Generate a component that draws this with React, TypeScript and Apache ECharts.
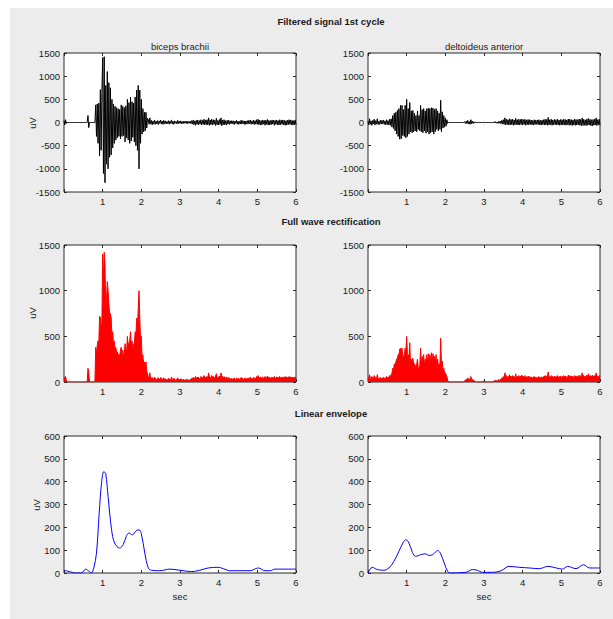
import React, { useEffect, useRef } from "react";
import * as echarts from "echarts";

// sample interval of the recorded EMG (s)
const DT = 0.02;

// Filtered signal, biceps brachii (uV), one sample every DT from t = 0
const bicepsFiltered = [
  40, -55, 60, -20, 0,
  0, 0, 0, 0, 0, 0, 0, 0, 0, 0, 0, 0, 0, 0, 0, 0, 0, 0, 0, 0, 0, 0, 0, 0, 0, 0,
  150, -110,
  0, 0, 0, 0, 0, 0, 0, 0,
  380, -300, 400, -450, 420, -720, 710, -600, 650, 1400, -1100, 1420, -1300, 800, -900, 1100, -1000, 860, -750, 750,
  -700, 500, -550, 400, -450, 350, -380, 320, -330, 300, -300, 280, -350, 380, -300, 350, -280, 320, -420, 360,
  -330, 500, -380, 430, -450, 550, -400, 450, -320, 420, -420, 550, -500, 700, -600, 800, -1000, 700, -450, 500,
  -250, 300, -200, 220, -180, 220, -120, 90,
  60, -40, 100, -30, 45, -50, 30, -35, 55, -40, 25, -30, 40, -45, 35, -20, 50, -35, 30, -40, 45, -25, 35,
  -30, 20, -25, 40, -35, 30, -20, 55, -30, 25, -40, 35, -15, 20, -30, 45, -25, 30, -20, 35, -30, 20, -25, 30, -15, 25, -20, 30, -25,
  20, -15, 30, -25, 40, -35, 50, -45, 35, -60, 45, -40, 55, -50, 40, -35, 60, -55, 45, -40, 70, -50, 55, -45, 60,
  -50, 100, -60, 55, -45, 70, -55, 60, -40, 50, -65, 90, -50, 45, -55, 65, -40, 100, -70, 55, -45, 60, -50, 40, -55, 45, -35, 50, -40, 35,
  -30, 40, -25, 35, -45, 30, -20, 45, -35, 30, -40, 25, -30, 50, -35, 40, -25, 35, -45, 30, -35, 40, -30, 45, -25, 55, -40, 35, -30, 50, -45, 40, -35, 60, -40,
  70, -45, 50, -55, 40, -50, 55, -35, 45, -60, 50, -40, 65, -55, 45, -50, 40, -45, 55, -35, 50, -60, 45, -40, 55,
  -50, 40, -55, 60, -45, 50, -40, 55, -50, 45, -60, 40, -55, 50, -45, 60, -40, 55, -50, 45, -55, 40, -50, 55, -45,
];

// Filtered signal, deltoideus anterior (uV)
const deltoidFiltered = [
  30, -50, 80, -40, 35, -60, 45, -30, 70, -55, 40, -35, 80, -45, 30, -40, 50, -35, 45, -30, 55, -40, 35, -50, 60, -45, 40, -55, 70, -60,
  80, -100, 150, -130, 200, -180, 220, -250, 260, -300, 300, -360, 370, -350, 370, -280, 280, -300, 370, -330,
  500, -300, 300, -250, 430, -200, 250, -220, 260, -200, 200, -180, 150, -200, 250, -150, 150, -180, 370, -200,
  280, -220, 300, -180, 250, -230, 300, -200, 310, -250, 300, -220, 320, -200, 310, -250, 280, -200, 300, -150,
  250, -180, 200, -150, 480, -200, 230, -120, 150, -100, 100, -80, 60, -20,
  0, 0, 0, 0, 0, 0, 0, 0, 0, 0, 0, 0, 0, 0, 0, 0, 0, 0, 0, 0, 0,
  15, -20, 30, -25, 45, -30, 20, -40, 60, -25, 30, -20, 15, -10, 5, 0,
  0, 0, 0, 0, 0, 0, 0, 0, 10, -8, 0, 0, 0, 0, 0, 0, 0, 0, 0, 0, 0, 0, 15, -10, 20, -15, 10, -20, 25, -15,
  30, -25, 45, -35, 60, -40, 100, -50, 70, -45, 60, -55, 80, -50, 65, -45, 70, -60, 55, -50, 90, -45, 60, -55, 70,
  -50, 65, -45, 75, -55, 60, -40, 70, -60, 55, -45, 65, -50, 60, -40, 55, -50, 45, -55, 60, -45, 50, -40, 55, -45, 60, -50, 45, -55, 50,
  -45, 60, -55, 70, -50, 65, -60, 110, -55, 60, -45, 70, -60, 55, -50, 65, -45, 60, -55, 70, -50, 55, -60, 65, -50,
  60, -55, 70, -50, 65, -60, 55, -45, 75, -60, 70, -55, 60, -65, 55, -50, 70, -60, 65, -55, 60, -50, 75, -60, 65,
  -70, 100, -65, 70, -60, 55, -65, 75, -60, 90, -55, 70, -65, 60, -75, 65, -60, 70, -55, 100, -65, 60, -55, 70, -60,
];

// Linear envelope, biceps brachii: time (s) and value (uV)
const bicepsEnvT = [0, 0.19, 0.28, 0.45, 0.56, 0.65, 0.71, 0.77, 0.84, 0.91, 0.97, 1.03, 1.08, 1.14, 1.23, 1.31, 1.44, 1.53, 1.61, 1.68, 1.77, 1.87, 1.94, 2.0, 2.09, 2.18, 2.26, 2.48, 2.74, 3.0, 3.3, 3.51, 3.73, 3.99, 4.12, 4.29, 4.55, 4.81, 5.03, 5.2, 5.33, 5.46, 6.0];
const bicepsEnvV = [12, 4, 0, 0, 17, 7, 0, 22, 87, 262, 393, 444, 434, 335, 190, 131, 109, 124, 160, 175, 167, 186, 189, 172, 87, 22, 12, 10, 17, 12, 6, 12, 22, 25, 19, 10, 10, 10, 22, 10, 10, 17, 17];

// Linear envelope, deltoideus anterior
const deltoidEnvT = [0, 0.11, 0.24, 0.41, 0.54, 0.67, 0.8, 0.91, 0.98, 1.06, 1.15, 1.23, 1.36, 1.48, 1.58, 1.67, 1.8, 1.88, 1.97, 2.06, 2.12, 2.53, 2.7, 2.83, 2.96, 3.22, 3.44, 3.65, 3.91, 4.17, 4.43, 4.65, 4.87, 5.03, 5.16, 5.38, 5.57, 5.73, 6.0];
const deltoidEnvV = [0, 25, 15, 12, 22, 51, 95, 134, 146, 131, 90, 73, 80, 84, 77, 80, 98, 84, 44, 7, 0, 3, 15, 12, 3, 3, 10, 29, 25, 22, 19, 29, 22, 17, 29, 19, 36, 22, 22];

const FIG_TITLES = ["Filtered signal 1st cycle", "Full wave rectification", "Linear envelope"];
const MUSCLES = ["biceps brachii", "deltoideus anterior"];
const Y_LABEL = "uV";
const X_LABEL = "sec";

const FONT = '"Liberation Sans", Arial, Helvetica, sans-serif';
const INK = "#1a1a1a";

const toPairs = (vals: number[]) => vals.map((v, i) => [+(i * DT).toFixed(3), v]);
const zip = (t: number[], v: number[]) => t.map((x, i) => [x, v[i]]);

export default function App() {
  const ref = useRef<HTMLDivElement>(null);

  useEffect(() => {
    if (!ref.current) return;
    const chart = echarts.init(ref.current, null, { renderer: "svg" });

    const gridsPos = [
      { left: 64, top: 53, width: 232, height: 139 },
      { left: 368, top: 53, width: 232, height: 139 },
      { left: 64, top: 245, width: 232, height: 137 },
      { left: 368, top: 245, width: 232, height: 137 },
      { left: 64, top: 436, width: 232, height: 137 },
      { left: 368, top: 436, width: 232, height: 137 },
    ];
    const yRanges = [
      [-1500, 1500, 500],
      [-1500, 1500, 500],
      [0, 1500, 500],
      [0, 1500, 500],
      [0, 600, 100],
      [0, 600, 100],
    ];

    const grid = gridsPos.map((g) => ({
      ...g,
      show: true,
      backgroundColor: "#ffffff",
      borderColor: "#2a2a2a",
      borderWidth: 1,
      containLabel: false,
    }));

    const lab = { fontFamily: FONT, fontSize: 9.5, color: INK };
    const xAxis: any[] = [];
    const yAxis: any[] = [];
    gridsPos.forEach((_, gi) => {
      const [ymin, ymax, yint] = yRanges[gi];
      for (const pos of ["bottom", "top"]) {
        xAxis.push({
          type: "value",
          gridIndex: gi,
          position: pos,
          min: 0,
          max: 6,
          interval: 1,
          axisLine: { show: false, onZero: false },
          axisTick: { show: true, inside: true, length: 3, lineStyle: { color: "#2a2a2a" } },
          splitLine: { show: false },
          axisLabel:
            pos === "bottom"
              ? { ...lab, margin: 4, showMaxLabel: true, formatter: (v: number) => (v === 0 ? "" : String(v)) }
              : { show: false },
        });
      }
      for (const pos of ["left", "right"]) {
        yAxis.push({
          type: "value",
          gridIndex: gi,
          position: pos,
          min: ymin,
          max: ymax,
          interval: yint,
          axisLine: { show: false, onZero: false },
          axisTick: { show: true, inside: true, length: 3, lineStyle: { color: "#2a2a2a" } },
          splitLine: { show: false },
          axisLabel:
            pos === "left"
              ? { ...lab, margin: 4, showMinLabel: true, showMaxLabel: true, formatter: (v: number) => String(v) }
              : { show: false },
        });
      }
    });

    const lineBase = { type: "line", showSymbol: false, symbol: "none", silent: true, animation: false };
    const series: any[] = [
      { ...lineBase, xAxisIndex: 0, yAxisIndex: 0, data: toPairs(bicepsFiltered), lineStyle: { color: "#000", width: 1 } },
      { ...lineBase, xAxisIndex: 2, yAxisIndex: 2, data: toPairs(deltoidFiltered), lineStyle: { color: "#000", width: 1 } },
      {
        ...lineBase, xAxisIndex: 4, yAxisIndex: 4,
        data: toPairs(bicepsFiltered.map(Math.abs)),
        lineStyle: { color: "#ff0000", width: 1 },
        areaStyle: { color: "#ff0000", opacity: 1 },
      },
      {
        ...lineBase, xAxisIndex: 6, yAxisIndex: 6,
        data: toPairs(deltoidFiltered.map(Math.abs)),
        lineStyle: { color: "#ff0000", width: 1 },
        areaStyle: { color: "#ff0000", opacity: 1 },
      },
      { ...lineBase, xAxisIndex: 8, yAxisIndex: 8, smooth: 0.35, data: zip(bicepsEnvT, bicepsEnvV), lineStyle: { color: "#0000ff", width: 1 } },
      { ...lineBase, xAxisIndex: 10, yAxisIndex: 10, smooth: 0.35, data: zip(deltoidEnvT, deltoidEnvV), lineStyle: { color: "#0000ff", width: 1 } },
    ];

    const txt = (text: string, x: number, y: number, bold = false, rotation = 0) => ({
      type: "text",
      x,
      y,
      rotation,
      silent: true,
      style: {
        text,
        fill: INK,
        font: `${bold ? "bold " : ""}9.5px ${FONT}`,
        fontFamily: FONT,
        fontSize: 9.5,
        fontWeight: bold ? "bold" : "normal",
        align: "center",
        verticalAlign: "middle",
        textAlign: "center",
        textVerticalAlign: "middle",
      },
    });

    const graphic = [
      txt(FIG_TITLES[0], 331, 21, true),
      txt(FIG_TITLES[1], 331, 221, true),
      txt(FIG_TITLES[2], 331, 413.5, true),
      txt(MUSCLES[0], 180, 46),
      txt(MUSCLES[1], 484, 46),
      txt(Y_LABEL, 32, 123, false, Math.PI / 2),
      txt(Y_LABEL, 32, 313, false, Math.PI / 2),
      txt(Y_LABEL, 36, 505, false, Math.PI / 2),
      txt(X_LABEL, 180, 596),
      txt(X_LABEL, 484, 596),
    ];

    chart.setOption({
      animation: false,
      backgroundColor: "transparent",
      grid,
      xAxis,
      yAxis,
      series,
      graphic,
    });

    return () => chart.dispose();
  }, []);

  return (
    <div style={{ position: "absolute", left: 0, top: 0, width: 613, height: 619, background: "#ffffff" }}>
      <div style={{ position: "absolute", left: 10, top: 8, right: 0, bottom: 0, background: "#ececec" }} />
      <div ref={ref} style={{ position: "absolute", left: 0, top: 0, width: 613, height: 619 }} />
    </div>
  );
}
